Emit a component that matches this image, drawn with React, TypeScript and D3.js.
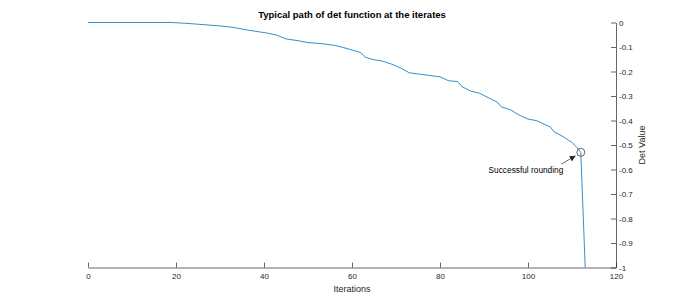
import React, { useEffect, useRef } from 'react';
import * as d3 from 'd3';

// iteration numbers and det values
const iterations = [0, 19, 22, 25, 30, 33, 36, 41, 43, 45, 48, 50, 53, 56, 58, 60, 62, 63, 65, 67, 69, 71, 73, 75, 78, 80, 82, 84, 85, 87, 89, 91, 93, 94, 96, 98, 100, 102, 104, 105, 106, 108, 110, 111, 112, 113];
const detValues = [0, 0, -0.003, -0.007, -0.014, -0.02, -0.03, -0.044, -0.052, -0.067, -0.075, -0.082, -0.086, -0.093, -0.102, -0.112, -0.123, -0.142, -0.152, -0.158, -0.17, -0.185, -0.205, -0.21, -0.217, -0.222, -0.238, -0.241, -0.262, -0.28, -0.289, -0.307, -0.325, -0.345, -0.356, -0.378, -0.394, -0.401, -0.418, -0.425, -0.447, -0.466, -0.49, -0.507, -0.53, -1];

const xTicks = [0, 20, 40, 60, 80, 100, 120];
const yTicks = [0, -0.1, -0.2, -0.3, -0.4, -0.5, -0.6, -0.7, -0.8, -0.9, -1];

const roundingIter = 112;
const roundingValue = -0.53;

const W = 680;
const H = 301;
const FONT = '"Liberation Sans", Arial, sans-serif';

const App: React.FC = () => {
  const svgRef = useRef<SVGSVGElement>(null);

  useEffect(() => {
    if (!svgRef.current) return;
    const svg = d3.select(svgRef.current);
    svg.selectAll('*').remove();

    const x = d3.scaleLinear().domain([0, 120]).range([88, 616]);
    const y = d3.scaleLinear().domain([-1, 0]).range([267.5, 22.5]);

    const defs = svg.append('defs');
    defs.append('marker')
      .attr('id', 'arrowhead')
      .attr('viewBox', '0 0 10 10')
      .attr('refX', 10)
      .attr('refY', 5)
      .attr('markerWidth', 6)
      .attr('markerHeight', 6)
      .attr('markerUnits', 'userSpaceOnUse')
      .attr('orient', 'auto')
      .append('path')
      .attr('d', 'M0,0L10,5L0,10z')
      .attr('fill', '#262626');

    // x axis
    const xAxis = svg.append('g')
      .attr('transform', `translate(0,${y(-1)})`)
      .call(d3.axisBottom(x).tickValues(xTicks).tickSizeInner(-5).tickSizeOuter(0).tickPadding(5.5));

    // y axis on the right
    const yAxis = svg.append('g')
      .attr('transform', `translate(${x(120)},0)`)
      .call(
        d3.axisRight(y)
          .tickValues(yTicks)
          .tickSizeInner(-5)
          .tickSizeOuter(0)
          .tickPadding(3)
          .tickFormat(d => (+d === 0 ? '0' : String(+(+d).toFixed(1))))
      );

    [xAxis, yAxis].forEach(g => {
      g.select('.domain').attr('stroke', '#262626').attr('stroke-width', 0.7);
      g.selectAll('.tick line').attr('stroke', '#262626').attr('stroke-width', 0.7);
      g.selectAll('.tick text')
        .attr('fill', '#262626')
        .attr('font-family', FONT)
        .attr('font-size', 8);
    });

    // data line
    const pts = iterations.map((it, i) => [it, detValues[i]] as [number, number]);
    const line = d3.line<[number, number]>()
      .x(d => x(d[0]))
      .y(d => y(d[1]));

    svg.append('path')
      .datum(pts)
      .attr('d', line)
      .attr('fill', 'none')
      .attr('stroke', '#0072BD')
      .attr('stroke-width', 0.8);

    // annotation
    const cx = x(roundingIter);
    const cy = y(roundingValue);
    svg.append('circle')
      .attr('cx', cx)
      .attr('cy', cy)
      .attr('r', 4)
      .attr('fill', 'none')
      .attr('stroke', '#262626')
      .attr('stroke-width', 0.7);

    svg.append('line')
      .attr('x1', cx - 19.5)
      .attr('y1', cy + 11.8)
      .attr('x2', cx - 5.2)
      .attr('y2', cy + 3.4)
      .attr('stroke', '#262626')
      .attr('stroke-width', 0.7)
      .attr('marker-end', 'url(#arrowhead)');

    svg.append('text')
      .attr('x', cx - 17.5)
      .attr('y', cy + 20.5)
      .attr('text-anchor', 'end')
      .attr('font-family', FONT)
      .attr('font-size', 8.3)
      .attr('fill', '#000')
      .text('Successful rounding');

    // title and labels
    svg.append('text')
      .attr('x', 352)
      .attr('y', 18.3)
      .attr('text-anchor', 'middle')
      .attr('font-family', FONT)
      .attr('font-weight', 'bold')
      .attr('font-size', 9.5)
      .attr('fill', '#000')
      .text('Typical path of det function at the iterates');

    svg.append('text')
      .attr('x', 352)
      .attr('y', 291.5)
      .attr('text-anchor', 'middle')
      .attr('font-family', FONT)
      .attr('font-size', 9)
      .attr('fill', '#262626')
      .text('Iterations');

    svg.append('text')
      .attr('transform', `translate(645,145) rotate(-90)`)
      .attr('text-anchor', 'middle')
      .attr('font-family', FONT)
      .attr('font-size', 9)
      .attr('fill', '#262626')
      .text('Det Value');
  }, []);

  return (
    <svg
      ref={svgRef}
      width={W}
      height={H}
      style={{ position: 'absolute', left: 0, top: 0, background: '#fff' }}
    />
  );
};

export default App;
